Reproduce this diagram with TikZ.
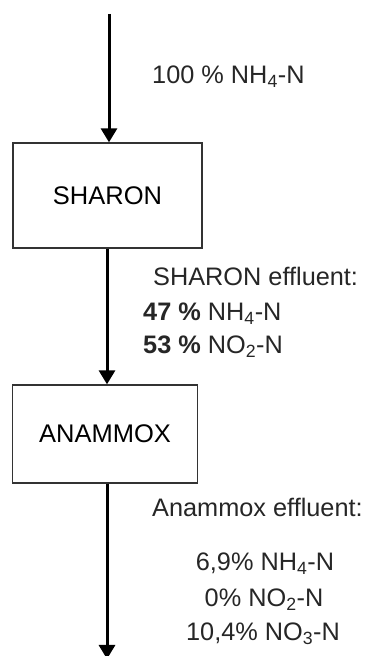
\documentclass[tikz,border=0pt]{standalone}
\usepackage{fontspec}
\setmainfont{Liberation Sans}
\usetikzlibrary{arrows.meta}
\begin{document}
\begin{tikzpicture}[x=1pt,y=1pt,
  box/.style={draw=black!80, line width=1.3pt, inner sep=0pt, font=\fontsize{25.5}{30}\selectfont},
  flow/.style={line width=3pt, -{Triangle[width=16pt,length=14pt]}},
  lbl/.style={inner sep=0pt, text height=17pt, text depth=0pt, font=\fontsize{25.3}{30}\selectfont, text=black!85}]
\useasboundingbox (0,0) rectangle (369,656);
\coordinate (in) at (109,642);
\node[box, minimum width=189pt, minimum height=105pt] (sharon) at (107.5,460.5) {SHARON};
\node[box, minimum width=185pt, minimum height=98pt] (anammox) at (105,222) {ANAMMOX};
\coordinate (out) at (107,-3);
\draw[flow] (in) -- (in |- sharon.north);
\draw[flow] (sharon.south -| 107,0) -- (anammox.north -| 107,0);
\draw[flow] (anammox.south -| out) -- (out);
\node[lbl, anchor=west] (l1) at (152,581) {100 \% NH\textsubscript{4}-N};
\node[lbl, anchor=west] (l2) at (153,379) {SHARON effluent:};
\node[lbl, anchor=west] (l3) at (143,344) {\textbf{47 \%} NH\textsubscript{4}-N};
\node[lbl, anchor=west] (l4) at (143,311) {\textbf{53 \%} NO\textsubscript{2}-N};
\node[lbl, anchor=west] (l5) at (152,148) {Anammox effluent:};
\node[lbl] (l6) at (265,94) {6,9\% NH\textsubscript{4}-N};
\node[lbl] (l7) at (264,58) {0\% NO\textsubscript{2}-N};
\node[lbl] (l8) at (263,24) {10,4\% NO\textsubscript{3}-N};
\end{tikzpicture}
\end{document}
